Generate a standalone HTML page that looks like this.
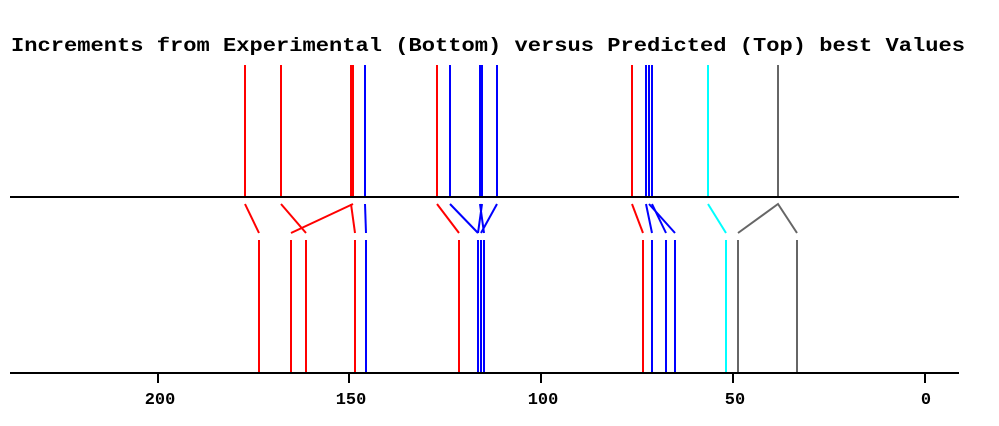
<!DOCTYPE html>
<html><head><meta charset="utf-8"><style>body{margin:0;background:#fff}</style></head><body>
<svg width="999" height="426" viewBox="0 0 999 426" xmlns="http://www.w3.org/2000/svg" style="display:block">
<rect width="999" height="426" fill="#fff"/>
<text x="488" y="51" text-anchor="middle" font-family="Liberation Mono, monospace" font-weight="bold" font-size="19" textLength="954" lengthAdjust="spacingAndGlyphs">Increments from Experimental (Bottom) versus Predicted (Top) best Values</text>
<g stroke-width="2" fill="none">
<!-- top lines -->
<g stroke="red"><line x1="245" y1="65" x2="245" y2="197"/><line x1="281" y1="65" x2="281" y2="197"/><line x1="351" y1="65" x2="351" y2="197"/><line x1="353" y1="65" x2="353" y2="197"/><line x1="437" y1="65" x2="437" y2="197"/><line x1="632" y1="65" x2="632" y2="197"/></g>
<g stroke="blue"><line x1="365" y1="65" x2="365" y2="197"/><line x1="450" y1="65" x2="450" y2="197"/><line x1="480" y1="65" x2="480" y2="197"/><line x1="482" y1="65" x2="482" y2="197"/><line x1="497" y1="65" x2="497" y2="197"/><line x1="646" y1="65" x2="646" y2="197"/><line x1="649" y1="65" x2="649" y2="197"/><line x1="652" y1="65" x2="652" y2="197"/></g>
<line stroke="cyan" x1="708" y1="65" x2="708" y2="197"/>
<line stroke="#666" x1="778" y1="65" x2="778" y2="197"/>
<!-- connectors -->
<g stroke="red"><line x1="245" y1="204" x2="259" y2="233"/><line x1="281" y1="204" x2="306" y2="233"/><line x1="353" y1="204" x2="291" y2="233"/><line x1="351" y1="204" x2="355" y2="233"/><line x1="437" y1="204" x2="459" y2="233"/><line x1="632" y1="204" x2="643" y2="233"/></g>
<g stroke="blue"><line x1="365" y1="204" x2="366" y2="233"/><line x1="450" y1="204" x2="478" y2="233"/><line x1="480" y1="204" x2="484" y2="233"/><line x1="482" y1="204" x2="478" y2="233"/><line x1="497" y1="204" x2="481" y2="233"/><line x1="646" y1="204" x2="652" y2="233"/><line x1="649" y1="204" x2="675" y2="233"/><line x1="652" y1="204" x2="666" y2="233"/></g>
<line stroke="cyan" x1="708" y1="204" x2="726" y2="233"/>
<g stroke="#666"><polyline points="738,233 778,204 797,233"/></g>
<!-- bottom lines -->
<g stroke="red"><line x1="259" y1="240" x2="259" y2="373"/><line x1="291" y1="240" x2="291" y2="373"/><line x1="306" y1="240" x2="306" y2="373"/><line x1="355" y1="240" x2="355" y2="373"/><line x1="459" y1="240" x2="459" y2="373"/><line x1="643" y1="240" x2="643" y2="373"/></g>
<g stroke="blue"><line x1="366" y1="240" x2="366" y2="373"/><line x1="478" y1="240" x2="478" y2="373"/><line x1="481" y1="240" x2="481" y2="373"/><line x1="484" y1="240" x2="484" y2="373"/><line x1="652" y1="240" x2="652" y2="373"/><line x1="666" y1="240" x2="666" y2="373"/><line x1="675" y1="240" x2="675" y2="373"/></g>
<line stroke="cyan" x1="726" y1="240" x2="726" y2="373"/>
<g stroke="#666"><line x1="738" y1="240" x2="738" y2="373"/><line x1="797" y1="240" x2="797" y2="373"/></g>
<!-- axes -->
<g stroke="#000"><line x1="10" y1="197" x2="959" y2="197"/><line x1="10" y1="373" x2="959" y2="373"/>
<line x1="158" y1="373" x2="158" y2="383"/><line x1="349" y1="373" x2="349" y2="383"/><line x1="541" y1="373" x2="541" y2="383"/><line x1="733" y1="373" x2="733" y2="383"/><line x1="925" y1="373" x2="925" y2="383"/></g>
</g>
<g font-family="Liberation Mono, monospace" font-weight="bold" font-size="17" text-anchor="middle">
<text x="160" y="404">200</text><text x="351" y="404">150</text><text x="543" y="404">100</text><text x="735" y="404">50</text><text x="926" y="404">0</text>
</g>
</svg>
</body></html>
